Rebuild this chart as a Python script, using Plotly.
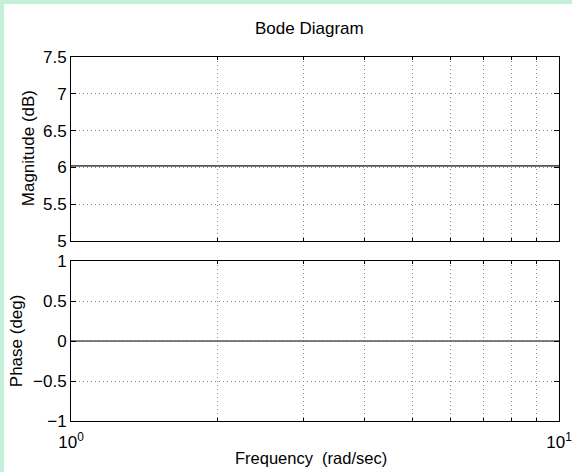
import plotly.graph_objects as go
from plotly.subplots import make_subplots

# Frequency response of a pure gain K = 2
freq = [1, 2, 3, 5, 7, 10]                      # rad/sec
magnitude_db = [6.0206, 6.0206, 6.0206, 6.0206, 6.0206, 6.0206]
phase_deg = [0, 0, 0, 0, 0, 0]

mag_ticks = [5, 5.5, 6, 6.5, 7, 7.5]
mag_ticktext = ["5", "5.5", "6", "6.5", "7", "7.5"]
phase_ticks = [-1, -0.5, 0, 0.5, 1]
phase_ticktext = ["\u22121", "\u22120.5", "0", "0.5", "1"]
freq_ticks = [1, 10]
freq_ticktext = ["10<sup>0</sup>", "10<sup>1</sup>"]
freq_minor_ticks = [2, 3, 4, 5, 6, 7, 8, 9]

W, H = 572, 472
ML, MR, MT, MB = 71, 13, 57, 51
PW, PH = W - ML - MR, H - MT - MB

fig = make_subplots(rows=2, cols=1, shared_xaxes=True, vertical_spacing=0.055)

line_style = dict(color="#555555", width=1.6)
fig.add_trace(go.Scatter(x=freq, y=magnitude_db, mode="lines", line=line_style,
                         showlegend=False, hoverinfo="skip"), row=1, col=1)
fig.add_trace(go.Scatter(x=freq, y=phase_deg, mode="lines", line=line_style,
                         showlegend=False, hoverinfo="skip"), row=2, col=1)

FONT_FAMILY = "Liberation Sans"
font = dict(family=FONT_FAMILY, size=17, color="#000000")
GRID_COLOR = "#8a8a8a"
GRID_DASH = "1px,3px"
axis_common = dict(
    showline=True, linecolor="#000000", linewidth=1, mirror="ticks",
    ticks="inside", tickcolor="#000000", tickwidth=1,
    showgrid=True, gridcolor=GRID_COLOR, griddash=GRID_DASH, gridwidth=1,
    zeroline=False, tickfont=font, ticklabeloverflow="allow", automargin=False,
)

fig.update_xaxes(type="log", range=[0, 1], tickmode="array",
                 tickvals=freq_ticks, ticktext=freq_ticktext, ticklen=5,
                 ticklabelstandoff=6,
                 minor=dict(tickmode="array", tickvals=freq_minor_ticks,
                            ticks="inside", ticklen=3, tickcolor="#000000",
                            showgrid=True, gridcolor=GRID_COLOR,
                            griddash=GRID_DASH, gridwidth=1),
                 **axis_common)
fig.update_xaxes(showticklabels=False, row=1, col=1)
fig.update_yaxes(range=[5, 7.5], tickmode="array", tickvals=mag_ticks,
                 ticktext=mag_ticktext, ticklen=5, row=1, col=1, **axis_common)
fig.update_yaxes(range=[-1, 1], tickmode="array", tickvals=phase_ticks,
                 ticktext=phase_ticktext, ticklen=5, row=2, col=1, **axis_common)

upper_h, lower_h = 184, 160
fig.update_layout(
    yaxis=dict(domain=[1 - upper_h / PH, 1]),
    yaxis2=dict(domain=[0, lower_h / PH]),
)


def px_x(px):
    return (px - ML) / PW


def px_y(px):
    return (H - MB - px) / PH


# Mint page with a white sheet that leaves a thin band on the top and left
MINT = "#c4f0da"
fig.add_shape(type="rect", xref="paper", yref="paper",
              x0=px_x(4), x1=px_x(W + 20), y0=px_y(H + 20), y1=px_y(4),
              fillcolor="#ffffff", line=dict(width=0), layer="below")

ann_font = dict(family=FONT_FAMILY, size=17, color="#000000")
fig.add_annotation(text="Bode Diagram", xref="paper", yref="paper",
                   x=px_x(309.5), y=px_y(28), showarrow=False, font=ann_font,
                   xanchor="center", yanchor="middle")
fig.add_annotation(text="Frequency  (rad/sec)", xref="paper", yref="paper",
                   x=px_x(311), y=px_y(458), showarrow=False,
                   font=dict(family=FONT_FAMILY, size=16.5, color="#000000"),
                   xanchor="center", yanchor="middle")
fig.add_annotation(text="Magnitude (dB)", xref="paper", yref="paper",
                   x=px_x(28.5), y=px_y(148.7), showarrow=False, font=ann_font,
                   textangle=-90, xanchor="center", yanchor="middle")
fig.add_annotation(text="Phase (deg)", xref="paper", yref="paper",
                   x=px_x(16.5), y=px_y(340.7), showarrow=False, font=ann_font,
                   textangle=-90, xanchor="center", yanchor="middle")

fig.update_layout(
    width=W, height=H,
    margin=dict(l=ML, r=MR, t=MT, b=MB, pad=0, autoexpand=False),
    paper_bgcolor=MINT,
    plot_bgcolor="#ffffff",
    font=font,
    showlegend=False,
)

fig.write_html("out.html")
